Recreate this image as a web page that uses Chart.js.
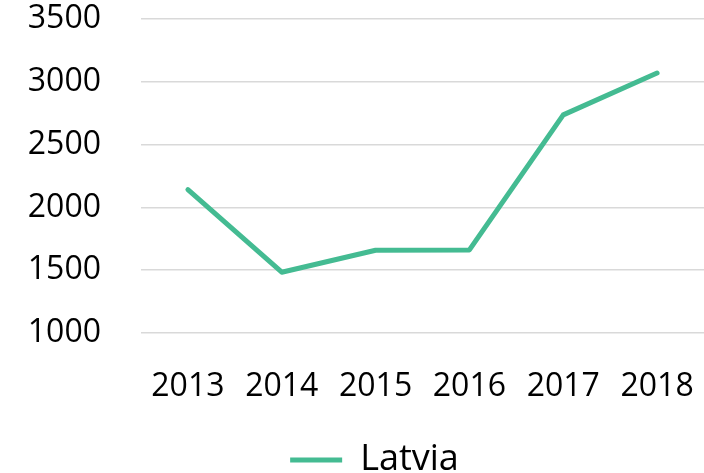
<!DOCTYPE html>
<html>
<head>
<meta charset="utf-8">
<script src="https://cdn.jsdelivr.net/npm/chart.js@4/dist/chart.umd.min.js"></script>
<style>
  html, body { margin: 0; padding: 0; background: #fff; }
  #wrap { width: 704px; height: 473px; position: relative; }
</style>
</head>
<body>
<div id="wrap"><canvas id="lineChart"></canvas></div>
<script>
const years = ['2013', '2014', '2015', '2016', '2017', '2018']
const latvia = [2143, 1484, 1659, 1662, 2738, 3071]
const yTicks = [1000, 1500, 2000, 2500, 3000, 3500]

const lineColor = '#44BB92'
const tickFont = { family: 'Open Sans', size: 32 }

// legend sits a bit right of and lower than the default centred slot
const legendNudge = {
  id: 'legendNudge',
  afterLayout(chart) {
    const lg = chart.legend
    if (!lg) return
    lg.left += 10
    lg.right += 10
    lg.top += 15
    lg.bottom += 15
  }
}

new Chart(document.getElementById('lineChart'), {
  type: 'line',
  data: {
    labels: years,
    datasets: [{
      label: 'Latvia',
      data: latvia,
      borderColor: lineColor,
      backgroundColor: lineColor,
      borderWidth: 5,
      borderCapStyle: 'round',
      borderJoinStyle: 'round',
      pointRadius: 0,
      tension: 0
    }]
  },
  options: {
    responsive: true,
    maintainAspectRatio: false,
    animation: false,
    layout: { padding: { top: 0, right: 0, left: 25, bottom: 0 } },
    plugins: {
      tooltip: { enabled: false },
      legend: {
        position: 'bottom',
        labels: {
          usePointStyle: true,
          pointStyle: 'line',
          pointStyleWidth: 52,
          boxHeight: 20,
          color: '#000',
          padding: 0,
          font: { family: 'Open Sans', size: 36, lineHeight: 1 }
        }
      }
    },
    scales: {
      x: {
        offset: true,
        grid: { display: true, drawOnChartArea: false, drawTicks: true, tickLength: 35, tickColor: 'transparent' },
        border: { display: false },
        ticks: { color: '#000', font: tickFont, padding: 0, maxRotation: 0 },
        afterFit: (axis) => { axis.height = 94 }
      },
      y: {
        min: yTicks[0],
        max: yTicks[yTicks.length - 1],
        afterBuildTicks: (axis) => { axis.ticks = yTicks.map((v) => ({ value: v })) },
        grid: { color: '#d9d9d9', lineWidth: 1.5, drawTicks: true, tickLength: 40, tickColor: 'transparent' },
        border: { display: false },
        ticks: { color: '#000', font: tickFont, padding: 0, callback: (v) => String(v) },
        afterFit: (axis) => { axis.width = 116 }
      }
    }
  },
  plugins: [legendNudge]
})
</script>
</body>
</html>
